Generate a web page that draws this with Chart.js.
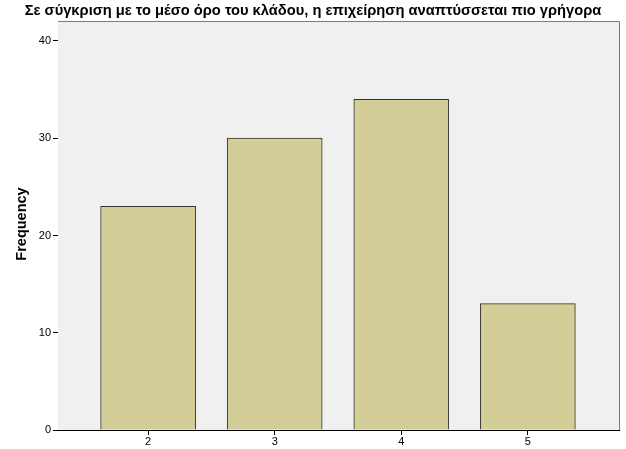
<!DOCTYPE html>
<html><head><meta charset="utf-8">
<script src="https://cdn.jsdelivr.net/npm/chart.js@4"></script>
<style>html,body{margin:0;padding:0;background:#fff;}#wrap{width:626px;height:449px;}</style>
</head><body><div id="wrap"><canvas id="c" width="626" height="449"></canvas></div>
<script>
const title = "Σε σύγκριση με το μέσο όρο του κλάδου, η επιχείρηση αναπτύσσεται πιο γρήγορα";
const yLabel = "Frequency";
const categories = [2, 3, 4, 5];
const frequencies = [23, 30, 34, 13];
const yTicks = [0, 10, 20, 30, 40];

const FONT = "'Liberation Sans', Arial, sans-serif";

const decor = {
  id: 'decor',
  beforeDatasetsDraw(chart) {
    const {ctx, chartArea: a} = chart;
    ctx.save();
    ctx.fillStyle = '#f0f0f0';
    ctx.fillRect(a.left, a.top, a.right - a.left, a.bottom - a.top);
    ctx.strokeStyle = '#7a7a7a';
    ctx.lineWidth = 1;
    ctx.beginPath();
    ctx.moveTo(a.left, a.top + 0.5); ctx.lineTo(a.right + 0.5, a.top + 0.5);
    ctx.lineTo(a.right + 0.5, a.bottom);
    ctx.stroke();
    ctx.restore();
  },
  afterDraw(chart) {
    const {ctx} = chart;
    ctx.save();
    ctx.fillStyle = '#000';
    ctx.font = "bold 14.7px " + FONT;
    ctx.textAlign = 'center';
    ctx.textBaseline = 'middle';
    ctx.fillText(title, 313, 11);
    ctx.translate(22, 224);
    ctx.rotate(-Math.PI / 2);
    ctx.font = "bold 14.5px " + FONT;
    ctx.fillText(yLabel, 0, 0);
    ctx.restore();
  }
};

new Chart(document.getElementById('c'), {
  type: 'bar',
  data: {
    datasets: [{
      data: categories.map((c, i) => ({x: c, y: frequencies[i]})),
      backgroundColor: '#d3ce97',
      borderColor: '#333333',
      borderWidth: 1,
      borderSkipped: 'bottom',
      barThickness: 95
    }]
  },
  options: {
    responsive: false,
    animation: false,
    layout: {padding: {left: 0, right: 7, top: 21, bottom: 0}},
    plugins: {legend: {display: false}, tooltip: {enabled: false}, title: {display: false}},
    scales: {
      x: {
        type: 'linear',
        offset: false,
        min: 1.288, max: 5.72,
        afterBuildTicks(s) { s.ticks = categories.map(v => ({value: v})); },
        afterFit(s) { s.height = 19; },
        grid: {drawOnChartArea: false, offset: false, tickLength: 5, color: '#000'},
        border: {color: '#000', width: 1},
        ticks: {color: '#000', font: {family: FONT, size: 11}, padding: 0, autoSkip: false, maxRotation: 0}
      },
      y: {
        min: 0, max: 42.05,
        afterBuildTicks(s) { s.ticks = yTicks.map(v => ({value: v})); },
        afterFit(s) { s.width = 58; },
        grid: {drawOnChartArea: false, tickLength: 5, color: '#000'},
        border: {color: '#000', width: 1},
        ticks: {color: '#000', font: {family: FONT, size: 11}, padding: 2}
      }
    }
  },
  plugins: [decor]
});
</script></body></html>
